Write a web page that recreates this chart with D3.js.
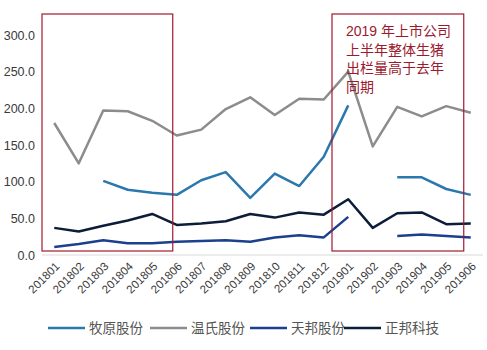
<!DOCTYPE html>
<html>
<head>
<meta charset="utf-8">
<script src="https://cdn.jsdelivr.net/npm/d3@7"></script>
<style>
  body { margin: 0; background: #fff; }
  text { font-family: "Liberation Sans", Arial, sans-serif; }
</style>
</head>
<body>
<svg></svg>
<script>
// months on the x axis
var months = ["201801","201802","201803","201804","201805","201806","201807","201808","201809",
  "201810","201811","201812","201901","201902","201903","201904","201905","201906"]
var yTicks = [0, 50, 100, 150, 200, 250, 300]

// series (null = no data)
var muyuan  = [null, null, 101, 89, 85, 82, 102, 113, 78, 111, 94, 134, 204, null, 106, 106, 90, 82]
var wens    = [180, 125, 197, 196, 183, 163, 171, 199, 215, 191, 213, 212, 250, 148, 202, 189, 203, 194]
var tianbang = [11, 15, 20, 16, 16, 18, 19, 20, 18, 24, 27, 24, 52, null, 26, 28, 26, 24]
var zhengbang = [37, 32, 40, 47, 56, 41, 43, 46, 56, 51, 58, 55, 76, 37, 57, 58, 42, 43]

var seriesNames = ["牧原股份", "温氏股份", "天邦股份", "正邦科技"]
var seriesColors = ["#2a78ad", "#8c8c8c", "#1c3f8e", "#0b1d38"]
var seriesData = [muyuan, wens, tianbang, zhengbang]

var noteLines = ["2019 年上市公司", "上半年整体生猪", "出栏量高于去年", "同期"]

var svg = d3.select("svg")
    .attr("width", 487)
    .attr("height", 350)

var margin = {top: 35, right: 4, bottom: 95, left: 42}
var graphWidth = 487 - margin.left - margin.right
var graphHeight = 255 - margin.top

var graph = svg.append("g")
    .attr("transform", `translate(${margin.left}, ${margin.top})`)

var scX = d3.scaleBand()
    .domain(months)
    .range([0, graphWidth])

var scY = d3.scaleLinear()
    .domain([0, 300])
    .range([graphHeight, 0])

// baseline
graph.append("line")
    .attr("x1", 0).attr("x2", graphWidth)
    .attr("y1", graphHeight).attr("y2", graphHeight)
    .attr("stroke", "#d9d9d9")

// y axis labels only
var yAxis = d3.axisLeft(scY)
    .tickValues(yTicks)
    .tickFormat(d3.format(".1f"))
    .tickSize(0)
    .tickPadding(7)
var yAxisGroup = graph.append("g").call(yAxis)
yAxisGroup.select(".domain").remove()
yAxisGroup.selectAll("text")
    .attr("font-size", 12.5)
    .attr("fill", "#3a3a3a")
    .style("font-family", "Liberation Sans, Arial, sans-serif")

// x axis labels rotated
var xAxis = d3.axisBottom(scX).tickSize(0).tickPadding(0)
var xAxisGroup = graph.append("g")
    .attr("transform", `translate(0, ${graphHeight})`)
    .call(xAxis)
xAxisGroup.select(".domain").remove()
xAxisGroup.selectAll("text")
    .attr("font-size", 11.5)
    .attr("fill", "#3a3a3a")
    .style("font-family", "Liberation Sans, Arial, sans-serif")
    .attr("text-anchor", "end")
    .attr("dy", "0")
    .attr("transform", "translate(6, 12) rotate(-45)")

// lines
var line = d3.line()
    .defined(d => d.v != null)
    .x(d => scX(d.m) + scX.bandwidth() / 2)
    .y(d => scY(d.v))

seriesData.forEach(function(vals, i) {
    var pts = months.map((m, j) => ({m: m, v: vals[j]}))
    graph.append("path")
        .datum(pts)
        .attr("fill", "none")
        .attr("stroke", seriesColors[i])
        .attr("stroke-width", 2.5)
        .attr("stroke-linejoin", "round")
        .attr("d", line)
})

// highlight boxes
var boxTop = 14 - margin.top
var boxBottom = graphHeight - 4
var cx = m => scX(m) + scX.bandwidth() / 2
graph.append("rect")
    .attr("x", scX("201801"))
    .attr("y", boxTop)
    .attr("width", cx("201806") - 4 - scX("201801"))
    .attr("height", boxBottom - boxTop)
    .attr("fill", "none")
    .attr("stroke", "#a3182e")
    .attr("stroke-width", 1.2)

var rx = scX("201901") - 4
graph.append("rect")
    .attr("x", rx)
    .attr("y", boxTop)
    .attr("width", cx("201906") - 7 - rx)
    .attr("height", boxBottom - boxTop)
    .attr("fill", "none")
    .attr("stroke", "#a3182e")
    .attr("stroke-width", 1.2)

graph.append("g").selectAll("text")
    .data(noteLines).enter().append("text")
    .attr("x", rx + 14)
    .attr("y", (d, i) => 36 - margin.top + i * 18.5)
    .attr("font-size", 14)
    .attr("fill", "#9b1a2e")
    .style("font-family", "Liberation Sans, 'Noto Sans CJK SC', sans-serif")
    .text(d => d)

// legend
var legendX = [48, 150, 250, 344]
var legend = svg.append("g")
    .attr("transform", "translate(0, 328)")
seriesNames.forEach(function(name, i) {
    legend.append("line")
        .attr("x1", legendX[i]).attr("x2", legendX[i] + 37)
        .attr("y1", 0).attr("y2", 0)
        .attr("stroke", seriesColors[i])
        .attr("stroke-width", 2.5)
    legend.append("text")
        .attr("x", legendX[i] + 41)
        .attr("y", 5)
        .attr("font-size", 13.5)
        .attr("fill", "#555")
        .style("font-family", "'Noto Sans CJK SC', sans-serif")
        .text(name)
})
</script>
</body>
</html>
